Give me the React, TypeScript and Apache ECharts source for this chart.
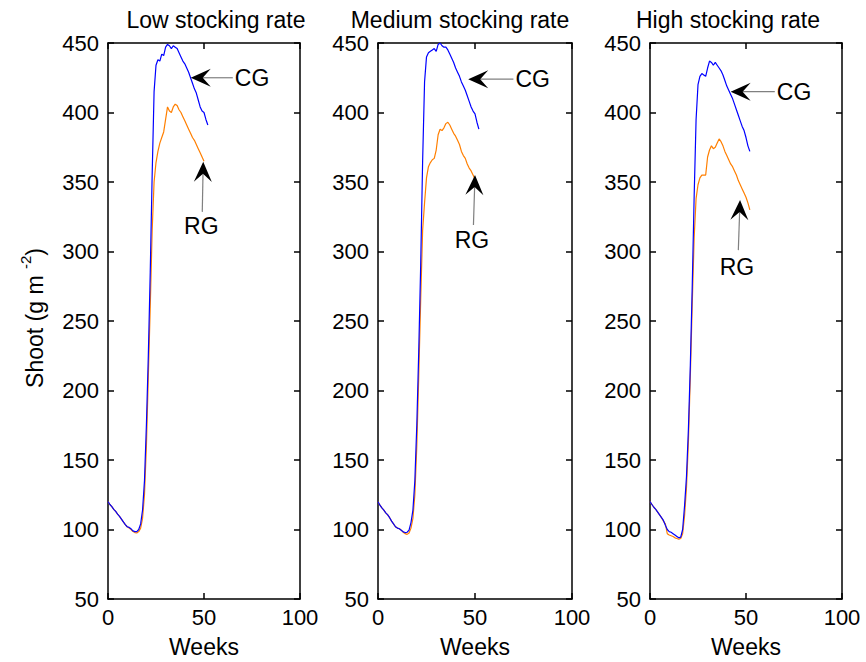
import React, { useEffect, useRef } from "react";
import * as echarts from "echarts";

// Shoot biomass (g m^-2) per week, continuous grazing (CG) vs rotational grazing (RG)
const cgLow = [120, 118, 116.5, 114.5, 113, 111, 109.5, 107.5, 105.5, 103.5, 102, 101.5, 100.5, 99, 98.5, 98.5, 100, 104, 114, 135, 175, 225, 285, 355, 415, 434, 438, 437, 442, 441, 447, 449, 448, 446, 448, 447, 446, 443, 440, 437, 435, 432, 429, 425, 421, 417, 414, 409, 404, 401, 400, 395, 391];
const rgLow = [120, 118, 116.5, 114.5, 113, 111, 109.5, 107.5, 105.5, 103.5, 102, 101, 100, 98.5, 97.8, 97.5, 98.5, 101, 108, 125, 160, 210, 260, 315, 350, 364, 372, 378, 382, 386, 395, 404, 401, 400, 404, 406, 405, 402, 400, 397, 394, 391, 388, 385, 382, 380, 377, 374, 371, 368, 365];
const cgMed = [120, 117.5, 115.5, 114, 112, 110.5, 108.5, 106, 104, 102, 101, 100.5, 99.5, 98.3, 97.8, 98, 99.5, 105, 114, 135, 175, 228, 290, 365, 422, 440, 443, 444, 445, 446, 444, 449, 450, 448, 447, 447, 445, 442, 439, 436, 432, 429, 426, 422, 419, 416, 412, 408, 404, 401, 399, 393, 388];
const rgMed = [120, 117.5, 115.5, 114, 112, 110.5, 108.5, 106, 104, 102, 101, 100.5, 99.5, 98, 97, 96.5, 97.5, 101, 108, 125, 160, 210, 265, 315, 335, 353, 361, 364, 366, 367, 373, 384, 388, 387, 389, 392, 393, 391, 388, 385, 383, 380, 377, 372, 369, 367, 363, 360, 358, 355, 352];
const cgHigh = [120, 118, 116, 114.5, 112.5, 110.5, 108.5, 106.5, 103, 100, 98.5, 98, 97, 96, 95, 94, 94.5, 100, 117, 138, 172, 218, 275, 340, 395, 420, 426, 428, 427, 426, 432, 437, 436, 434, 436, 434, 432, 430, 427, 423, 419, 416, 413, 410, 406, 402, 398, 394, 390, 387, 382, 376, 372];
const rgHigh = [120, 118, 116, 114.5, 112.5, 110.5, 108.5, 106, 104, 97, 96, 95.5, 95, 94, 93.5, 93, 93.5, 97, 110, 130, 163, 210, 262, 310, 338, 348, 353, 355, 355, 355, 368, 373, 376, 374, 375, 378, 381, 379, 376, 372, 369, 366, 363, 361, 358, 355, 351, 348, 345, 342, 339, 335, 330];

const panelTitles = ["Low stocking rate", "Medium stocking rate", "High stocking rate"];
const cgSeries = [cgLow, cgMed, cgHigh];
const rgSeries = [rgLow, rgMed, rgHigh];

// Axis ranges and tick steps
const weekRange = [0, 100];
const weekStep = 50;
const shootRange = [50, 450];
const shootStep = 50;

// Arrow annotations in data units: [tipWeek, tipShoot], [tailWeek, tailShoot], label anchor
const cgArrowTips = [[43.1, 425], [46.5, 424], [42, 415]];
const cgArrowTails = [[65, 425], [69.8, 424], [65, 415]];
const rgArrowTips = [[49.6, 364.5], [50, 355], [46.9, 337]];
const rgArrowTails = [[49.1, 328.5], [49.2, 319], [46, 301]];
const rgLabelAt = [[48.6, 318], [48.4, 308], [45.3, 289]];

const FONT = '"Liberation Sans", Arial, Helvetica, sans-serif';
const TICK_FS = 22;
const FS = 23;
const CG_COLOR = "#0000ff";
const RG_COLOR = "#ff7f00";

const grids = [
  { left: 108, top: 43, width: 192, height: 556 },
  { left: 378, top: 43, width: 194, height: 556 },
  { left: 650, top: 43, width: 192, height: 556 },
];
// horizontal centres of the panel titles
const titleCenters = [216, 460, 728];

function toPairs(values: number[]) {
  return values.map((v, week) => [week, v]);
}

function measure(text: string, size: number) {
  const c = document.createElement("canvas").getContext("2d")!;
  c.font = `${size}px ${FONT}`;
  return c.measureText(text).width;
}

export default function App() {
  const ref = useRef<HTMLDivElement>(null);

  useEffect(() => {
    const chart = echarts.init(ref.current!, null, { renderer: "svg" });
    const line = { show: true, onZero: false, lineStyle: { color: "#000", width: 1.5 } };
    const tick = { show: true, inside: true, length: 6, lineStyle: { color: "#000", width: 1.5 } };
    const label = { color: "#000", fontSize: TICK_FS, fontFamily: FONT };

    const xAxis: any[] = [];
    const yAxis: any[] = [];
    const series: any[] = [];
    grids.forEach((_, i) => {
      const xBase = { type: "value", gridIndex: i, min: weekRange[0], max: weekRange[1], interval: weekStep, axisLine: line, axisTick: tick, splitLine: { show: false } };
      const yBase = { type: "value", gridIndex: i, min: shootRange[0], max: shootRange[1], interval: shootStep, axisLine: line, axisTick: tick, splitLine: { show: false } };
      xAxis.push({ ...xBase, position: "bottom", axisLabel: { ...label, margin: 7 } });
      xAxis.push({ ...xBase, position: "top", axisLabel: { show: false } });
      yAxis.push({ ...yBase, position: "left", axisLabel: { ...label, margin: 9 } });
      yAxis.push({ ...yBase, position: "right", axisLabel: { show: false } });
      series.push({
        type: "line", name: "RG", xAxisIndex: i * 2, yAxisIndex: i * 2, data: toPairs(rgSeries[i]),
        showSymbol: false, lineStyle: { color: RG_COLOR, width: 1.2 }, itemStyle: { color: RG_COLOR },
      });
      series.push({
        type: "line", name: "CG", xAxisIndex: i * 2, yAxisIndex: i * 2, data: toPairs(cgSeries[i]),
        showSymbol: false, lineStyle: { color: CG_COLOR, width: 1.2 }, itemStyle: { color: CG_COLOR },
      });
    });

    chart.setOption({
      animation: false,
      backgroundColor: "#fff",
      grid: grids,
      xAxis,
      yAxis,
      series,
    });

    const graphic: any[] = [];
    const arrow = (gi: number, tip: number[], tail: number[]) => {
      const p = chart.convertToPixel({ gridIndex: gi }, tip) as number[];
      const t = chart.convertToPixel({ gridIndex: gi }, tail) as number[];
      const dx = p[0] - t[0];
      const dy = p[1] - t[1];
      const len = Math.hypot(dx, dy);
      const ux = dx / len;
      const uy = dy / len;
      const nx = -uy;
      const ny = ux;
      const L = 20, W = 9, N = 12;
      graphic.push({
        type: "line", z: 50,
        shape: { x1: t[0], y1: t[1], x2: p[0] - ux * N, y2: p[1] - uy * N },
        style: { stroke: "#808080", lineWidth: 1.2 },
      });
      graphic.push({
        type: "polygon", z: 51,
        shape: {
          points: [
            [p[0], p[1]],
            [p[0] - ux * L + nx * W, p[1] - uy * L + ny * W],
            [p[0] - ux * N, p[1] - uy * N],
            [p[0] - ux * L - nx * W, p[1] - uy * L - ny * W],
          ],
        },
        style: { fill: "#000" },
      });
      return t;
    };

    grids.forEach((g, i) => {
      const cx = g.left + g.width / 2;
      graphic.push({
        type: "text", x: titleCenters[i], y: 20,
        style: { text: panelTitles[i], font: `${FS}px ${FONT}`, fill: "#000", align: "center", verticalAlign: "middle" },
      });
      graphic.push({
        type: "text", x: cx, y: 647,
        style: { text: "Weeks", font: `${FS}px ${FONT}`, fill: "#000", align: "center", verticalAlign: "middle" },
      });
      const t = arrow(i, cgArrowTips[i], cgArrowTails[i]);
      graphic.push({
        type: "text", x: t[0] + 2, y: t[1],
        style: { text: "CG", font: `${FS}px ${FONT}`, fill: "#000", align: "left", verticalAlign: "middle" },
      });
      arrow(i, rgArrowTips[i], rgArrowTails[i]);
      const lp = chart.convertToPixel({ gridIndex: i }, rgLabelAt[i]) as number[];
      graphic.push({
        type: "text", x: lp[0], y: lp[1],
        style: { text: "RG", font: `${FS}px ${FONT}`, fill: "#000", align: "center", verticalAlign: "middle" },
      });
    });

    // Rotated y-axis title with a superscript exponent
    const mainTxt = "Shoot (g m ";
    const supTxt = "-2";
    const closeTxt = ")";
    const w1 = measure(mainTxt, FS);
    const w2 = measure(supTxt, 15);
    const w3 = measure(closeTxt, FS);
    const total = w1 + w2 + w3;
    const x0 = -total / 2;
    graphic.push({
      type: "group", x: 35, y: 318, rotation: Math.PI / 2,
      children: [
        { type: "text", x: x0, y: 0, style: { text: mainTxt, font: `${FS}px ${FONT}`, fill: "#000", align: "left", verticalAlign: "middle" } },
        { type: "text", x: x0 + w1, y: -10, style: { text: supTxt, font: `15px ${FONT}`, fill: "#000", align: "left", verticalAlign: "middle" } },
        { type: "text", x: x0 + w1 + w2, y: 0, style: { text: closeTxt, font: `${FS}px ${FONT}`, fill: "#000", align: "left", verticalAlign: "middle" } },
      ],
    });

    chart.setOption({ graphic });
    return () => chart.dispose();
  }, []);

  return (
    <div
      ref={ref}
      style={{ position: "fixed", left: 0, top: 0, width: 866, height: 662, background: "#fff" }}
    />
  );
}
